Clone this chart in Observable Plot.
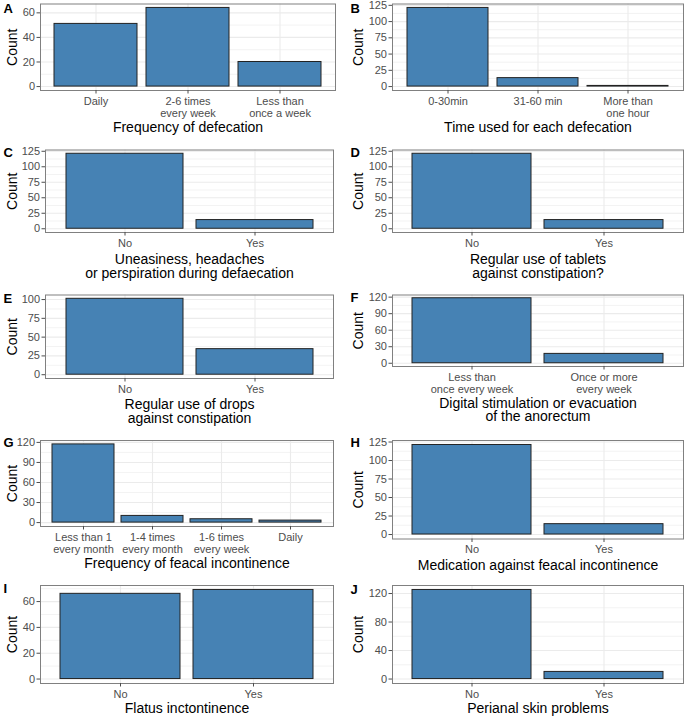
<!DOCTYPE html>
<html><head><meta charset="utf-8">
<script src="https://cdn.jsdelivr.net/npm/d3@7"></script>
<script src="https://cdn.jsdelivr.net/npm/@observablehq/plot@0.6"></script>
<style>
body{margin:0;background:#fff;}
#fig{position:relative;width:685px;height:718px;font-family:"Liberation Sans",Arial,sans-serif;}
#fig svg{position:absolute;overflow:visible;}
</style></head><body><div id="fig"></div>
<script>
// ---- data ----
const catsA = ["Daily", "2-6 times\nevery week", "Less than\nonce a week"];
const countsA = [51, 64, 20];
const ticksA = [0, 20, 40, 60];
const titleA = "Frequency of defecation";

const catsB = ["0-30min", "31-60 min", "More than\none hour"];
const countsB = [121, 13, 1];
const ticksB = [0, 25, 50, 75, 100, 125];
const titleB = "Time used for each defecation";

const catsC = ["No", "Yes"];
const countsC = [121, 14];
const ticksC = [0, 25, 50, 75, 100, 125];
const titleC = "Uneasiness, headaches\nor perspiration during defaecation";

const catsD = ["No", "Yes"];
const countsD = [121, 14];
const ticksD = [0, 25, 50, 75, 100, 125];
const titleD = "Regular use of tablets\nagainst constipation?";

const catsE = ["No", "Yes"];
const countsE = [101, 34];
const ticksE = [0, 25, 50, 75, 100];
const titleE = "Regular use of drops\nagainst constipation";

const catsF = ["Less than\nonce every week", "Once or more\nevery week"];
const countsF = [118, 17];
const ticksF = [0, 30, 60, 90, 120];
const titleF = "Digital stimulation or evacuation\nof the anorectum";

const catsG = ["Less than 1\nevery month", "1-4 times\nevery month", "1-6 times\nevery week", "Daily"];
const countsG = [117, 10, 5, 3];
const ticksG = [0, 30, 60, 90, 120];
const titleG = "Frequency of feacal incontinence";

const catsH = ["No", "Yes"];
const countsH = [121, 14];
const ticksH = [0, 25, 50, 75, 100, 125];
const titleH = "Medication against feacal incontinence";

const catsI = ["No", "Yes"];
const countsI = [66, 69];
const ticksI = [0, 20, 40, 60];
const titleI = "Flatus inctontinence";

const catsJ = ["No", "Yes"];
const countsJ = [125, 10];
const ticksJ = [0, 40, 80, 120];
const titleJ = "Perianal skin problems";

// ---- layout ----
const panels = [
  {letter:"A", cats:catsA, counts:countsA, ticks:ticksA, title:titleA, x0:0,   y0:0,   w:340, h:140, ml:40, mr:5, mt:3.5, mb:50,   tOff:41.7, lb:12},
  {letter:"B", cats:catsB, counts:countsB, ticks:ticksB, title:titleB, x0:340, y0:0,   w:345, h:140, ml:52, mr:2, mt:3.5, mb:50,   tOff:41.7, lb:12},
  {letter:"C", cats:catsC, counts:countsC, ticks:ticksC, title:titleC, x0:0,   y0:140, w:340, h:145, ml:45, mr:7, mt:9.5, mb:53,   tOff:32,   lb:16.5},
  {letter:"D", cats:catsD, counts:countsD, ticks:ticksD, title:titleD, x0:340, y0:140, w:345, h:145, ml:52, mr:2, mt:9.5, mb:53,   tOff:32,   lb:16.5},
  {letter:"E", cats:catsE, counts:countsE, ticks:ticksE, title:titleE, x0:0,   y0:285, w:340, h:145, ml:45, mr:7, mt:9.5, mb:52,   tOff:31,   lb:17},
  {letter:"F", cats:catsF, counts:countsF, ticks:ticksF, title:titleF, x0:340, y0:285, w:345, h:145, ml:52, mr:2, mt:9.5, mb:64,   tOff:41.7, lb:16.5},
  {letter:"G", cats:catsG, counts:countsG, ticks:ticksG, title:titleG, x0:0,   y0:430, w:340, h:145, ml:40, mr:7, mt:10,  mb:49,   tOff:42,   lb:16.7},
  {letter:"H", cats:catsH, counts:countsH, ticks:ticksH, title:titleH, x0:340, y0:430, w:345, h:145, ml:52, mr:2, mt:10,  mb:36.5, tOff:31,   lb:16.7},
  {letter:"I", cats:catsI, counts:countsI, ticks:ticksI, title:titleI, x0:0,   y0:575, w:340, h:143, ml:40, mr:7, mt:10,  mb:35,   tOff:30,   lb:17.5},
  {letter:"J", cats:catsJ, counts:countsJ, ticks:ticksJ, title:titleJ, x0:340, y0:575, w:345, h:143, ml:52, mr:2, mt:10,  mb:35,   tOff:30,   lb:18}
];

const FONT = "Liberation Sans, Arial, Helvetica, sans-serif";
const fig = document.getElementById("fig");

for (const p of panels) {
  const data = p.cats.map((c, i) => ({cat: c, n: p.counts[i]}));
  const M = d3.max(p.counts);
  const dom = [-0.05 * M, 1.05 * M];
  const step = p.ticks[1] - p.ticks[0];
  const minor = [];
  for (let v = p.ticks[0] + step / 2; v <= dom[1]; v += step) minor.push(v);
  const countX = (p.x0 === 0 ? 16 : 22.7) - p.ml;
  const letterX = (p.x0 === 0 ? 3 : 10) - p.ml;

  const svg = Plot.plot({
    width: p.w, height: p.h,
    marginLeft: p.ml, marginRight: p.mr, marginTop: p.mt, marginBottom: p.mb,
    style: {fontFamily: FONT, background: "transparent", overflow: "visible"},
    x: {domain: p.cats, paddingInner: 0.1, paddingOuter: 0.15, axis: null},
    y: {domain: dom, axis: null},
    marks: [
      Plot.gridY(minor, {stroke: "#ebebeb", strokeOpacity: 1, strokeWidth: 0.6}),
      Plot.gridY(p.ticks, {stroke: "#ebebeb", strokeOpacity: 1, strokeWidth: 1.1}),
      Plot.gridX({stroke: "#ebebeb", strokeOpacity: 1, strokeWidth: 1.1}),
      Plot.barY(data, {x: "cat", y: "n", fill: "#4682B4", stroke: "#222", strokeWidth: 1}),
      Plot.frame({stroke: "#808080", strokeWidth: 1}),
      Plot.axisY(p.ticks, {tickSize: 3.5, tickPadding: 2, fontSize: 11, color: "#4d4d4d", stroke: "#4d4d4d", label: null, tickFormat: d => String(d)}),
      Plot.axisX({tickSize: 3.5, tickPadding: 2.5, fontSize: 11, lineHeight: 1.08, color: "#4d4d4d", stroke: "#4d4d4d", label: null, tickFormat: d => d}),
      Plot.text([p.title], {text: d => d, frameAnchor: "bottom", dy: p.tOff - 9.94, lineAnchor: "top", textAnchor: "middle", lineHeight: 0.97, fontSize: 14, fill: "#000"}),
      Plot.text(["Count"], {text: d => d, frameAnchor: "left", rotate: -90, dx: countX, lineAnchor: "bottom", textAnchor: "middle", fontSize: 14, fill: "#000"}),
      Plot.text([p.letter], {text: d => d, frameAnchor: "top-left", dx: letterX, dy: p.lb - p.mt, lineAnchor: "bottom", textAnchor: "start", fontWeight: "bold", fontSize: 13, fill: "#000"})
    ]
  });
  svg.style.left = p.x0 + "px";
  svg.style.top = p.y0 + "px";
  fig.appendChild(svg);
}
</script>
</body></html>
